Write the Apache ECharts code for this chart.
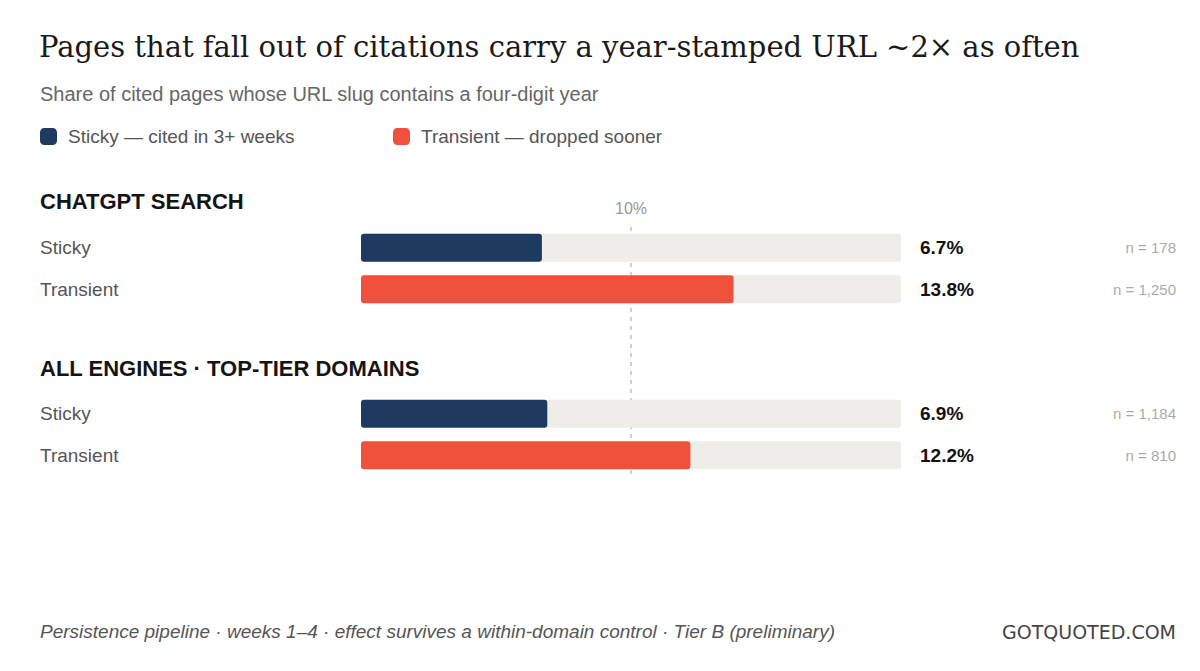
<!DOCTYPE html>
<html>
<head>
<meta charset="utf-8">
<script src="https://cdn.jsdelivr.net/npm/echarts@6/dist/echarts.min.js"></script>
<style>
  html, body { margin: 0; padding: 0; background: #fff; }
  #chart { width: 1200px; height: 671px; }
</style>
</head>
<body>
<div id="chart"></div>
<script>
// data
const groups = ["CHATGPT SEARCH", "ALL ENGINES · TOP-TIER DOMAINS"];
const rowLabels = ["Sticky", "Transient"];
const stickyShare = [6.7, 6.9];
const transientShare = [13.8, 12.2];
const stickyN = [178, 1184];
const transientN = [1250, 810];
const refLine = 10;
const axisMax = 20;

const SANS = "'Liberation Sans', Arial, Helvetica, sans-serif";
const SERIF = "Georgia, 'DejaVu Serif', serif";

// 6 rows: group 0 -> rows 0,1 ; spacer rows 2,3 ; group 1 -> rows 4,5
const rowKeys = ["g0s", "g0t", "sp1", "sp2", "g1s", "g1t"];
const rowText = [rowLabels[0], rowLabels[1], "", "", rowLabels[0], rowLabels[1]];
const stickyRow = [stickyShare[0], "-", "-", "-", stickyShare[1], "-"];
const transientRow = ["-", transientShare[0], "-", "-", "-", transientShare[1]];
const trackRow = rowKeys.map((k) => (k.startsWith("sp") ? "-" : axisMax));
const valueText = [stickyShare[0], transientShare[0], null, null, stickyShare[1], transientShare[1]]
  .map((v) => (v == null ? "" : v.toFixed(1) + "%"));
const nText = [stickyN[0], transientN[0], null, null, stickyN[1], transientN[1]]
  .map((v) => (v == null ? "" : "n = " + v.toLocaleString("en-US")));

const chart = echarts.init(document.getElementById("chart"), null, { renderer: "svg" });

const catAxis = {
  type: "category",
  data: rowKeys,
  inverse: true,
  axisLine: { show: false },
  axisTick: { show: false },
  splitLine: { show: false },
};

chart.setOption({
  backgroundColor: "#fff",
  animation: false,
  title: [
    {
      text: "Pages that fall out of citations carry a year-stamped URL ~2× as often",
      left: 39, top: 32, padding: 0,
      textStyle: { fontFamily: SERIF, fontSize: 29, fontWeight: "normal", color: "#1a1a1a" },
    },
    {
      text: "Share of cited pages whose URL slug contains a four-digit year",
      left: 40, top: 84, padding: 0,
      textStyle: { fontFamily: SANS, fontSize: 20, fontWeight: "normal", color: "#666" },
    },
    {
      text: groups[0],
      left: 40, top: 190, padding: 0,
      textStyle: { fontFamily: SANS, fontSize: 22, fontWeight: "bold", color: "#141414" },
    },
    {
      text: groups[1],
      left: 40, top: 357, padding: 0,
      textStyle: { fontFamily: SANS, fontSize: 22, fontWeight: "bold", color: "#141414" },
    },
    {
      text: "Persistence pipeline · weeks 1–4 · effect survives a within-domain control · Tier B (preliminary)",
      left: 40, top: 622, padding: 0,
      textStyle: { fontFamily: SANS, fontSize: 19, fontStyle: "italic", fontWeight: "normal", color: "#555" },
    },
    {
      text: "GOTQUOTED.COM",
      right: 24, top: 622, padding: 0,
      textStyle: { fontFamily: "'DejaVu Sans', sans-serif", fontSize: 19, fontWeight: "normal", color: "#444" },
    },
  ],
  legend: [
    {
      data: ["Sticky — cited in 3+ weeks"],
      left: 40, top: 127, padding: 0,
      icon: "roundRect",
      itemWidth: 17, itemHeight: 17,
      textStyle: { fontFamily: SANS, fontSize: 19, color: "#555", padding: [0, 0, 0, 6] },
    },
    {
      data: ["Transient — dropped sooner"],
      left: 393, top: 127, padding: 0,
      icon: "roundRect",
      itemWidth: 17, itemHeight: 17,
      textStyle: { fontFamily: SANS, fontSize: 19, color: "#555", padding: [0, 0, 0, 6] },
    },
  ],
  grid: { left: 361, right: 299, top: 227, height: 249 },
  xAxis: {
    type: "value",
    position: "top",
    min: 0,
    max: axisMax,
    interval: refLine,
    axisLine: { show: false },
    axisTick: { show: false },
    axisLabel: {
      margin: 11,
      fontFamily: SANS,
      fontSize: 16,
      color: "#999",
      formatter: (v) => (v === refLine ? v + "%" : ""),
    },
    splitLine: {
      show: true,
      lineStyle: { color: ["transparent", "#cfcfcf", "transparent"], width: 2, type: [4, 5] },
    },
  },
  yAxis: [
    Object.assign({}, catAxis, {
      position: "left",
      axisLabel: {
        align: "left",
        margin: 321,
        fontFamily: SANS,
        fontSize: 19,
        color: "#555",
        formatter: (v, i) => rowText[i],
      },
    }),
    Object.assign({}, catAxis, {
      position: "right",
      offset: 0,
      axisLabel: {
        align: "left",
        margin: 19,
        fontFamily: SANS,
        fontSize: 19,
        fontWeight: "bold",
        color: "#111",
        formatter: (v, i) => valueText[i],
      },
    }),
    Object.assign({}, catAxis, {
      position: "right",
      offset: 0,
      axisLabel: {
        align: "right",
        margin: 275,
        fontFamily: SANS,
        fontSize: 15,
        color: "#aaa",
        formatter: (v, i) => nText[i],
      },
    }),
  ],
  series: [
    {
      name: "track",
      type: "bar",
      data: trackRow,
      barWidth: 28,
      barGap: "-100%",
      silent: true,
      itemStyle: { color: "#efedea", borderRadius: 3 },
    },
    {
      name: "Sticky — cited in 3+ weeks",
      type: "bar",
      data: stickyRow,
      barWidth: 28,
      barGap: "-100%",
      itemStyle: { color: "#1f3a60", borderRadius: 3 },
    },
    {
      name: "Transient — dropped sooner",
      type: "bar",
      data: transientRow,
      barWidth: 28,
      barGap: "-100%",
      itemStyle: { color: "#f0513d", borderRadius: 3 },
    },
  ],
});
</script>
</body>
</html>
